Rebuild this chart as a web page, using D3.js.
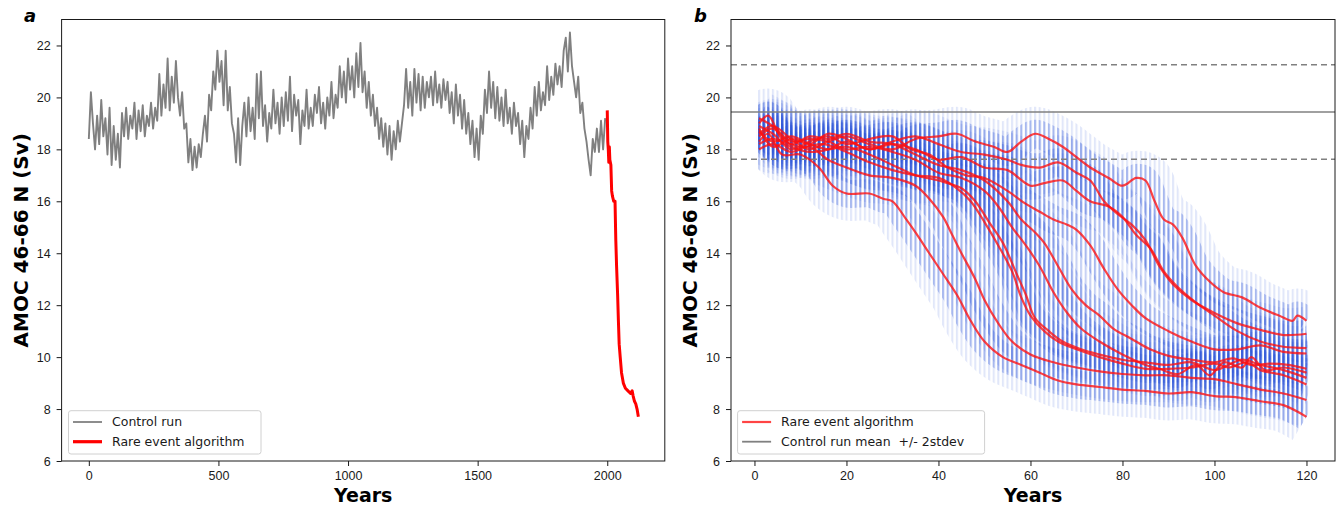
<!DOCTYPE html>
<html>
<head>
<meta charset="utf-8">
<script src="https://cdn.jsdelivr.net/npm/d3@7"></script>
<style>
  body { margin: 0; background: #fff; }
  svg { display: block; font-family: "DejaVu Sans", sans-serif; }
  .tick text { font-size: 12.5px; fill: #1a1a1a; }
  .tick line { stroke: #1a1a1a; }
  .legend text { font-size: 12.5px; fill: #1a1a1a; white-space: pre; }
</style>
</head>
<body>
<svg id="chart" width="1341" height="507"></svg>
<script>
// ---- data ----
const yTicks = [6, 8, 10, 12, 14, 16, 18, 20, 22];
const xTicksA = [0, 500, 1000, 1500, 2000];
const xTicksB = [0, 20, 40, 60, 80, 100, 120];

// control run, one value every 8 years from year 0
const controlStart = 0;
const controlStep = 8;
const controlRun = [
  18.4, 20.2, 19.0, 18.0, 19.3, 18.2, 19.9, 18.5, 19.2, 17.8,
  19.6, 17.4, 18.9, 17.6, 18.6, 17.3, 19.4, 18.5, 19.6, 18.4,
  19.3, 18.8, 19.8, 18.4, 19.5, 18.7, 19.7, 18.5, 19.3, 18.9,
  19.8, 18.8, 19.6, 19.1, 20.9, 19.3, 20.5, 19.6, 21.5, 19.5,
  20.8, 19.8, 21.4, 20.0, 19.3, 20.2, 18.8, 19.0, 17.5, 18.4,
  17.2, 18.1, 17.3, 18.2, 17.7, 18.6, 19.3, 18.3, 20.1, 19.5,
  21.0, 20.3, 21.8, 20.6, 21.4, 19.7, 21.8, 19.5, 20.4, 19.0,
  18.6, 17.5, 19.2, 17.4, 18.9, 19.8, 18.5, 20.0, 18.7, 19.6,
  18.4, 20.9, 19.2, 21.0, 18.9, 19.7, 18.3, 19.4, 18.8, 20.3,
  19.0, 19.8, 18.6, 20.0, 18.9, 20.2, 19.1, 20.8, 18.7, 20.1,
  19.3, 19.9, 18.2, 19.5, 18.9, 20.3, 18.8, 19.6, 18.9, 20.1,
  19.4, 20.4, 19.0, 19.8, 18.8, 20.0, 19.3, 20.6, 19.2, 20.1,
  19.6, 21.2, 20.0, 21.0, 19.8, 21.5, 20.3, 21.2, 20.0, 21.7,
  20.4, 22.1, 20.2, 21.0, 19.6, 20.6, 19.3, 20.1, 18.9, 19.6,
  18.4, 19.2, 18.1, 19.0, 17.8, 18.9, 17.6, 18.7, 18.0, 19.1,
  18.3, 19.0, 19.7, 21.1, 19.6, 20.6, 19.3, 21.1, 19.8, 20.9,
  19.5, 20.8, 19.6, 20.6, 20.0, 20.8, 19.7, 21.0, 19.8, 20.5,
  19.6, 20.7, 19.9, 20.6, 19.4, 20.2, 19.0, 20.5, 19.3, 20.1,
  18.8, 19.9, 18.6, 19.4, 18.2, 19.1, 17.7, 18.8, 17.6, 19.3,
  18.6, 20.3, 19.4, 21.0, 19.6, 20.6, 19.2, 20.4, 19.1, 20.0,
  18.9, 20.3, 19.0, 19.6, 18.6, 19.8, 18.9, 19.4, 18.2, 19.1,
  17.7, 18.9, 18.4, 19.6, 18.8, 20.4, 19.3, 20.6, 19.5, 20.2,
  19.7, 21.2, 19.9, 20.8, 20.1, 21.3, 20.5, 21.2, 20.4, 21.8,
  22.3, 21.0, 22.5, 21.2, 20.6, 20.0, 20.8, 19.4, 19.8, 18.8,
  18.3, 17.6, 17.0, 18.4, 17.9, 18.8, 17.9, 19.1, 18.0, 19.2
];

// rare event trajectory shown after the control run (panel a): [year, Sv]
const rareA = [
  [2000, 19.5], [2002, 18.3], [2004, 18.0], [2006, 17.5], [2008, 18.1], [2010, 17.6],
  [2014, 17.4], [2017, 16.4], [2020, 16.2], [2025, 16.0], [2030, 16.0], [2033, 14.5],
  [2036, 13.5], [2040, 12.4], [2043, 11.4], [2046, 10.5], [2050, 10.0], [2055, 9.4],
  [2062, 9.0], [2070, 8.8], [2080, 8.7], [2090, 8.6], [2096, 8.7], [2100, 8.5],
  [2105, 8.3], [2110, 8.2], [2115, 8.0], [2120, 7.7]
];

// panel b: rare event algorithm trajectories, [year, Sv]
const run01 = [[1,18.3],[3,18.6],[6,17.8],[10,17.8],[14,17.3],[17,16.6],[20,16.3],[25,16.3],[28,16.1],[30,16.0],[33,15.3],[35,14.8],[38,14.0],[41,13.2],[44,12.4],[47,11.4],[50,10.6],[54,10.0],[58,9.7],[62,9.4],[66,9.1],[70,8.95],[75,8.85],[80,8.75],[85,8.7],[90,8.6],[95,8.65],[100,8.5],[105,8.45],[110,8.3],[115,8.15],[120,7.7]];
const run02 = [[1,18.0],[4,18.2],[8,17.9],[12,18.1],[16,17.6],[20,17.3],[25,17.0],[30,16.9],[35,16.6],[38,16.1],[41,15.4],[43,14.7],[45,14.0],[48,13.0],[50,12.2],[53,11.3],[56,10.6],[60,10.1],[65,9.8],[70,9.6],[75,9.45],[80,9.35],[85,9.3],[90,9.3],[95,9.2],[100,9.15],[105,8.95],[110,8.75],[115,8.6],[120,8.35]];
const run03 = [[1,19.0],[3,19.3],[6,18.4],[10,18.1],[15,18.2],[20,17.9],[25,17.5],[30,17.2],[35,17.0],[40,16.9],[44,16.5],[47,16.0],[50,15.2],[53,14.3],[56,13.3],[58,12.3],[60,11.6],[63,11.0],[66,10.6],[70,10.3],[75,10.0],[80,9.75],[85,9.55],[90,9.55],[95,9.6],[100,9.75],[103,9.6],[107,9.8],[110,9.5],[115,9.3],[120,8.95]];
const run04 = [[1,18.7],[4,18.3],[8,18.5],[12,18.2],[16,18.0],[20,18.1],[25,17.8],[30,17.4],[35,17.0],[40,16.8],[45,16.5],[48,16.0],[51,15.2],[54,14.4],[57,13.2],[59,12.4],[61,11.5],[64,11.0],[67,10.6],[71,10.3],[75,10.1],[80,9.9],[85,9.8],[90,9.7],[95,9.8],[100,9.5],[103,9.7],[106,9.9],[110,9.7],[115,9.5],[120,9.2]];
const run05 = [[1,19.2],[4,18.9],[8,18.3],[12,18.4],[16,18.3],[20,18.0],[25,18.1],[30,17.9],[35,17.6],[40,17.1],[45,16.9],[50,16.4],[53,15.8],[56,15.0],[59,14.3],[62,13.5],[65,12.5],[68,11.7],[71,11.1],[75,10.6],[80,10.1],[85,9.7],[88,9.55],[92,9.35],[96,9.7],[99,9.3],[102,9.8],[106,9.6],[108,10.0],[111,9.5],[115,9.6],[120,9.4]];
const run06 = [[1,18.5],[4,18.8],[8,18.2],[12,18.5],[16,18.4],[20,18.6],[25,18.3],[30,18.2],[35,17.8],[40,17.4],[45,17.2],[50,16.8],[55,16.0],[58,15.3],[61,14.8],[63,14.4],[66,13.5],[69,12.6],[72,12.0],[75,11.6],[78,11.1],[82,10.7],[86,10.3],[90,10.05],[95,9.9],[100,9.8],[104,9.95],[108,9.7],[112,9.75],[116,9.7],[120,9.55]];
const run07 = [[1,18.9],[4,18.6],[8,18.0],[12,18.3],[16,18.5],[20,18.2],[25,18.4],[30,18.5],[34,18.0],[38,17.8],[42,17.3],[46,17.0],[50,16.9],[55,16.4],[59,15.9],[62,15.6],[65,15.3],[68,15.1],[70,14.9],[73,14.3],[76,13.4],[79,12.6],[82,12.0],[85,11.5],[90,11.0],[95,10.6],[100,10.3],[105,10.3],[110,10.45],[115,10.2],[120,10.14]];
const run08 = [[1,18.2],[4,18.4],[8,18.1],[12,17.9],[16,18.0],[20,18.3],[25,18.0],[30,18.2],[35,18.0],[40,17.6],[45,17.7],[50,17.3],[55,17.2],[60,16.6],[63,16.7],[67,16.8],[70,16.4],[73,16.0],[77,15.8],[80,15.4],[83,14.7],[86,14.2],[89,13.3],[92,12.7],[96,12.1],[100,11.6],[105,11.0],[110,10.6],[115,10.4],[120,10.35]];
const run09 = [[1,18.8],[4,18.1],[8,18.4],[12,18.2],[16,18.6],[20,18.4],[25,18.0],[30,18.3],[35,18.5],[40,18.2],[45,17.9],[50,17.8],[55,17.6],[58,17.4],[62,17.3],[66,17.5],[70,17.1],[73,16.8],[76,16.0],[79,15.5],[82,15.1],[85,14.5],[88,13.5],[91,12.8],[95,12.2],[100,11.7],[105,11.3],[110,11.05],[115,10.85],[120,10.9]];
const run10 = [[1,18.6],[4,18.9],[8,18.4],[12,18.0],[16,18.3],[20,18.5],[25,18.2],[30,18.0],[35,18.4],[40,18.5],[44,18.6],[48,18.3],[52,18.1],[55,17.9],[58,18.3],[61,18.6],[64,18.4],[67,18.1],[70,17.7],[73,17.3],[77,16.9],[80,16.6],[83,16.9],[85,16.8],[87,16.0],[89,15.3],[91,15.1],[93,14.6],[96,13.5],[99,12.9],[102,12.5],[106,12.3],[110,11.9],[114,11.6],[117,11.4],[118,11.6],[120,11.4]];
const rareRuns = [run01, run02, run03, run04, run05, run06, run07, run08, run09, run10];

// control run statistics (panel b reference lines)
const controlMean = 19.44;
const controlStd = 0.91;

// ---- drawing ----
const svg = d3.select('#chart');
svg.append('rect').attr('width', 1341).attr('height', 507).attr('fill', '#fff');

const plotTop = 19.5, plotBottom = 461;
const y = d3.scaleLinear().domain([6, 23]).range([plotBottom, plotTop]);
const xA = d3.scaleLinear().domain([-105, 2222]).range([61.6, 664.8]);
const xB = d3.scaleLinear().domain([-5.1, 126.2]).range([731, 1335]);

const defs = svg.append('defs');
defs.append('clipPath').attr('id', 'clipA').append('rect')
  .attr('x', xA.range()[0]).attr('y', plotTop).attr('width', xA.range()[1] - xA.range()[0]).attr('height', plotBottom - plotTop);
defs.append('clipPath').attr('id', 'clipB').append('rect')
  .attr('x', xB.range()[0]).attr('y', plotTop).attr('width', xB.range()[1] - xB.range()[0]).attr('height', plotBottom - plotTop);
// the ensemble only covers the simulated years
const yearsB = d3.extent(rareRuns.flat(), d => d[0]);
defs.append('clipPath').attr('id', 'clipCloud').append('rect')
  .attr('x', xB(yearsB[0] - 0.5)).attr('y', plotTop)
  .attr('width', xB(yearsB[1] + 0.5) - xB(yearsB[0] - 0.5)).attr('height', plotBottom - plotTop);

// vertical columns used to paint the ensemble cloud, one per model year
const colW = xB(1) - xB(0);
defs.append('pattern').attr('id', 'cols').attr('patternUnits', 'userSpaceOnUse')
  .attr('x', xB(0) - 1).attr('y', 0).attr('width', colW).attr('height', 8)
  .append('rect').attr('width', 2.1).attr('height', 8).attr('fill', '#2d55d8');

function drawAxes(x, xTicks) {
  svg.append('g').attr('transform', `translate(0,${plotBottom})`)
    .call(d3.axisBottom(x).tickValues(xTicks).tickSize(5).tickPadding(5).tickFormat(d3.format('d')))
    .call(g => g.select('.domain').remove());
  svg.append('g').attr('transform', `translate(${x.range()[0]},0)`)
    .call(d3.axisLeft(y).tickValues(yTicks).tickSize(5).tickPadding(6))
    .call(g => g.select('.domain').remove());
  svg.append('rect')
    .attr('x', x.range()[0]).attr('y', plotTop)
    .attr('width', x.range()[1] - x.range()[0]).attr('height', plotBottom - plotTop)
    .attr('fill', 'none').attr('stroke', '#1a1a1a').attr('stroke-width', 1);
  const cx = (x.range()[0] + x.range()[1]) / 2;
  svg.append('text').attr('x', cx).attr('y', 502).attr('text-anchor', 'middle')
    .attr('font-weight', 'bold').attr('font-size', 19).text('Years');
  svg.append('text')
    .attr('transform', `translate(${x.range()[0] - 34},${(plotTop + plotBottom) / 2}) rotate(-90)`)
    .attr('text-anchor', 'middle').attr('font-weight', 'bold').attr('font-size', 20)
    .text('AMOC 46-66 N (Sv)');
}

function legend(x0, items) {
  const g = svg.append('g').attr('class', 'legend');
  g.append('rect').attr('x', x0).attr('y', 410.7).attr('width', items.w).attr('height', 43.3)
    .attr('rx', 2.5).attr('fill', '#fff').attr('fill-opacity', 0.85)
    .attr('stroke', '#d0d0d0').attr('stroke-width', 1);
  items.rows.forEach((r, i) => {
    const yy = 422 + i * 19.7;
    g.append('line').attr('x1', x0 + 4.5).attr('x2', x0 + 33.5).attr('y1', yy).attr('y2', yy)
      .attr('stroke', r.color).attr('stroke-width', r.width).attr('stroke-opacity', r.opacity);
    g.append('text').attr('x', x0 + 43.5).attr('y', yy).attr('dy', '0.35em').text(r.label);
  });
}

// ----- panel a -----
const lineA = d3.line().x(d => xA(d[0])).y(d => y(d[1]));
const gA = svg.append('g').attr('clip-path', 'url(#clipA)');
gA.append('path')
  .datum(controlRun.map((v, i) => [controlStart + i * controlStep, v]))
  .attr('d', lineA).attr('fill', 'none').attr('stroke', '#808080').attr('stroke-width', 1.9)
  .attr('stroke-linejoin', 'round');
gA.append('path').datum(rareA).attr('d', lineA)
  .attr('fill', 'none').attr('stroke', '#ff0000').attr('stroke-width', 3).attr('stroke-linejoin', 'round');
drawAxes(xA, xTicksA);
legend(68.5, { w: 192.5, rows: [
  { label: 'Control run', color: '#808080', width: 1.8, opacity: 1 },
  { label: 'Rare event algorithm', color: '#ff0000', width: 3.2, opacity: 1 }
] });
svg.append('text').attr('x', 24).attr('y', 22).attr('font-weight', 'bold')
  .attr('font-style', 'italic').attr('font-size', 18).text('a');

// ----- panel b -----
const lineB = d3.line().x(d => xB(d[0])).y(d => y(d[1])).curve(d3.curveCatmullRom);
const gB = svg.append('g').attr('clip-path', 'url(#clipB)');
// ensemble cloud around each trajectory
const gCloud = gB.append('g').attr('clip-path', 'url(#clipCloud)');
gCloud.selectAll('path.cloudOuter').data(rareRuns).join('path').attr('class', 'cloudOuter')
  .attr('d', lineB).attr('fill', 'none').attr('stroke', 'url(#cols)')
  .attr('stroke-width', 54).attr('stroke-opacity', 0.14)
  .attr('stroke-linejoin', 'round').attr('stroke-linecap', 'butt');
gCloud.selectAll('path.cloudInner').data(rareRuns).join('path').attr('class', 'cloudInner')
  .attr('d', lineB).attr('fill', 'none').attr('stroke', 'url(#cols)')
  .attr('stroke-width', 28).attr('stroke-opacity', 0.32)
  .attr('stroke-linejoin', 'round').attr('stroke-linecap', 'butt');
// control mean +/- 2 stdev
[[controlMean, null], [controlMean + 2 * controlStd, '6,4'], [controlMean - 2 * controlStd, '6,4']]
  .forEach(([v, dash]) => {
    gB.append('line').attr('x1', xB.range()[0]).attr('x2', xB.range()[1])
      .attr('y1', y(v)).attr('y2', y(v)).attr('stroke', '#808080').attr('stroke-width', 1.6)
      .attr('stroke-dasharray', dash);
  });
gB.selectAll('path.run').data(rareRuns).join('path').attr('class', 'run')
  .attr('d', lineB).attr('fill', 'none').attr('stroke', '#ff1010').attr('stroke-opacity', 0.78)
  .attr('stroke-width', 2.2).attr('stroke-linejoin', 'round');
drawAxes(xB, xTicksB);
legend(737.6, { w: 247, rows: [
  { label: 'Rare event algorithm', color: '#ff1010', width: 2.2, opacity: 0.78 },
  { label: 'Control run mean  +/- 2stdev', color: '#808080', width: 1.8, opacity: 1 }
] });
svg.append('text').attr('x', 694).attr('y', 22).attr('font-weight', 'bold')
  .attr('font-style', 'italic').attr('font-size', 18).text('b');
</script>
</body>
</html>
